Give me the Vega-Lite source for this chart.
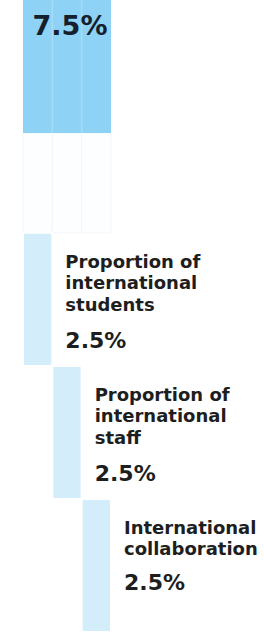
{
  "$schema": "https://vega.github.io/schema/vega-lite/v6.json",
  "width": 264,
  "height": 632,
  "padding": 0,
  "autosize": "none",
  "background": "white",
  "config": {"view": {"stroke": null}},
  "datasets": {
    "total": [{"name": "International outlook", "x0": 0, "x1": 7.5, "xm": 3.75, "y0": 0, "y1": 1, "value": "7.5%"}],
    "dividers": [{"x": 2.5, "y0": 0, "y1": 1}, {"x": 5, "y0": 0, "y1": 1}],
    "ghosts": [
      {"x0": 0, "x1": 2.5, "y0": 1, "y1": 1.75},
      {"x0": 2.5, "x1": 5, "y0": 1, "y1": 1.75},
      {"x0": 5, "x1": 7.5, "y0": 1, "y1": 1.75}
    ],
    "parts": [
      {"label": "Proportion of\ninternational\nstudents", "value": "2.5%", "x0": 0, "x1": 2.5, "y0": 1.75, "y1": 2.75},
      {"label": "Proportion of\ninternational\nstaff", "value": "2.5%", "x0": 2.5, "x1": 5, "y0": 2.75, "y1": 3.75},
      {"label": "International\ncollaboration", "value": "2.5%", "x0": 5, "x1": 7.5, "y0": 3.75, "y1": 4.75}
    ]
  },
  "layer": [
    {
      "data": {"name": "ghosts"},
      "mark": {"type": "rect", "fill": "#fdfeff", "stroke": "#f0f6fa", "strokeWidth": 1},
      "encoding": {
        "x": {"field": "x0", "type": "quantitative", "scale": {"domain": [-1.96, 20.54]}, "axis": null},
        "x2": {"field": "x1"},
        "y": {"field": "y0", "type": "quantitative", "scale": {"domain": [0, 4.75], "reverse": true}, "axis": null},
        "y2": {"field": "y1"}
      }
    },
    {
      "data": {"name": "total"},
      "mark": {"type": "rect", "fill": "#8ed3f5"},
      "encoding": {
        "x": {"field": "x0", "type": "quantitative", "scale": {"domain": [-1.96, 20.54]}, "axis": null},
        "x2": {"field": "x1"},
        "y": {"field": "y0", "type": "quantitative", "scale": {"domain": [0, 4.75], "reverse": true}, "axis": null},
        "y2": {"field": "y1"}
      }
    },
    {
      "data": {"name": "dividers"},
      "mark": {"type": "rule", "color": "#a6dcf6", "strokeWidth": 1.5},
      "encoding": {
        "x": {"field": "x", "type": "quantitative", "scale": {"domain": [-1.96, 20.54]}, "axis": null},
        "y": {"field": "y0", "type": "quantitative", "scale": {"domain": [0, 4.75], "reverse": true}, "axis": null},
        "y2": {"field": "y1"}
      }
    },
    {
      "data": {"name": "parts"},
      "mark": {"type": "rect", "fill": "#d3edfb", "stroke": "white", "strokeWidth": 2},
      "encoding": {
        "x": {"field": "x0", "type": "quantitative", "scale": {"domain": [-1.96, 20.54]}, "axis": null},
        "x2": {"field": "x1"},
        "y": {"field": "y0", "type": "quantitative", "scale": {"domain": [0, 4.75], "reverse": true}, "axis": null},
        "y2": {"field": "y1"}
      }
    },
    {
      "data": {"name": "total"},
      "mark": {"type": "text", "font": "DejaVu Sans", "fontWeight": "bold", "fontSize": 27, "color": "#14202e", "align": "center", "baseline": "alphabetic", "dx": 3, "dy": 35},
      "encoding": {
        "x": {"field": "xm", "type": "quantitative", "scale": {"domain": [-1.96, 20.54]}, "axis": null},
        "y": {"field": "y0", "type": "quantitative", "scale": {"domain": [0, 4.75], "reverse": true}, "axis": null},
        "text": {"field": "value"}
      }
    },
    {
      "data": {"name": "parts"},
      "mark": {"type": "text", "font": "DejaVu Sans", "fontWeight": "bold", "fontSize": 18, "lineHeight": 21.5, "lineBreak": "\n", "color": "#1e1e1e", "align": "left", "baseline": "alphabetic", "dx": 13, "dy": 35},
      "encoding": {
        "x": {"field": "x1", "type": "quantitative", "scale": {"domain": [-1.96, 20.54]}, "axis": null},
        "y": {"field": "y0", "type": "quantitative", "scale": {"domain": [0, 4.75], "reverse": true}, "axis": null},
        "text": {"field": "label"}
      }
    },
    {
      "data": {"name": "parts"},
      "transform": [{"filter": "split(datum.label, '\\n').length == 3"}],
      "mark": {"type": "text", "font": "DejaVu Sans", "fontWeight": "bold", "fontSize": 22, "color": "#1e1e1e", "align": "left", "baseline": "alphabetic", "dx": 13, "dy": 115},
      "encoding": {
        "x": {"field": "x1", "type": "quantitative", "scale": {"domain": [-1.96, 20.54]}, "axis": null},
        "y": {"field": "y0", "type": "quantitative", "scale": {"domain": [0, 4.75], "reverse": true}, "axis": null},
        "text": {"field": "value"}
      }
    },
    {
      "data": {"name": "parts"},
      "transform": [{"filter": "split(datum.label, '\\n').length == 2"}],
      "mark": {"type": "text", "font": "DejaVu Sans", "fontWeight": "bold", "fontSize": 22, "color": "#1e1e1e", "align": "left", "baseline": "alphabetic", "dx": 13, "dy": 91},
      "encoding": {
        "x": {"field": "x1", "type": "quantitative", "scale": {"domain": [-1.96, 20.54]}, "axis": null},
        "y": {"field": "y0", "type": "quantitative", "scale": {"domain": [0, 4.75], "reverse": true}, "axis": null},
        "text": {"field": "value"}
      }
    }
  ]
}
